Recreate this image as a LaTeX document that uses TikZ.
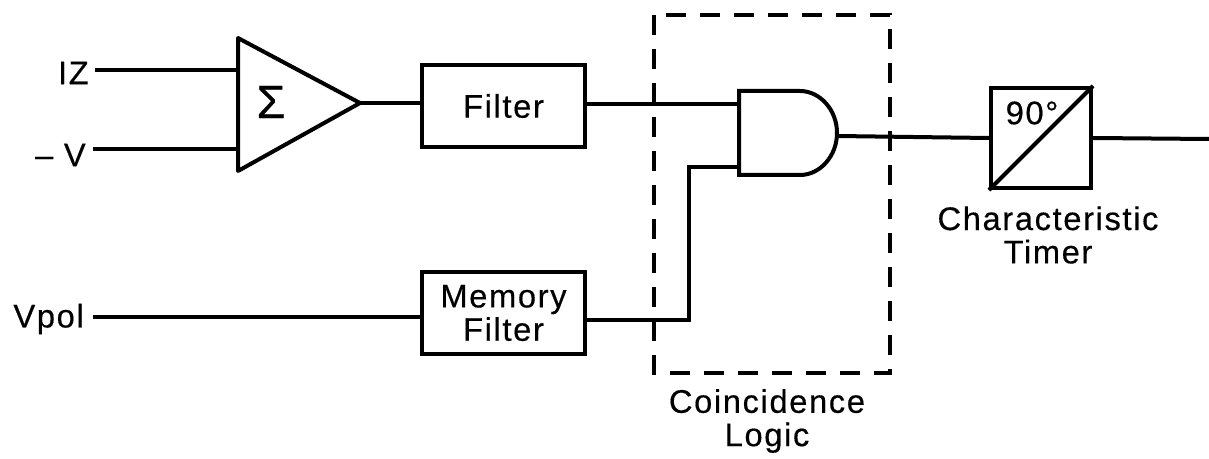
\documentclass[tikz,border=0pt]{standalone}
\usepackage{fontspec}
\setmainfont[LetterSpace=5,FakeBold=0.4]{Liberation Sans}
\tikzset{
  wire/.style={line width=3pt,line join=miter},
  blockbox/.style={draw,line width=3.1pt,minimum width=122pt,minimum height=61pt,inner sep=0pt,align=center},
  lbl/.style={inner sep=0pt,align=center,font=\fontsize{24.5}{25}\selectfont},
}
\begin{document}
\begin{tikzpicture}[x=.75pt,y=-.75pt]
\useasboundingbox (0,0) rectangle (1209,459);
\node[lbl,anchor=east] (iz) at (89,73) {IZ};
\node[lbl,anchor=east] (minusv) at (86,155) {– V};
\node[lbl,anchor=east] (vpol) at (84,319) {Vpol};
\coordinate (sumtop) at (238,38); \coordinate (sumbot) at (238,171); \coordinate (sumtip) at (360,103);
\draw[wire,line join=round] (sumtop)--(sumtip)--(sumbot)--cycle;
\node[lbl,font=\fontsize{35}{35}\selectfont] (sigma) at (271,102) {Σ};
\node[blockbox,lbl] (filter) at (503.5,106) {Filter};
\node[blockbox,lbl] (memfilter) at (503.5,313) {Memory\\Filter};
\coordinate (andtop) at (739,91); \coordinate (andbot) at (739,175);
\draw[wire] (andtop)--(800,91) .. controls (820,91) and (837,110) .. (837,133) .. controls (837,156) and (820,175) .. (800,175)--(andbot)--cycle;
\coordinate (andout) at (837,136);
\node[blockbox,minimum width=75pt,minimum height=75pt] (timer) at (1041,138) {};
\node[lbl] (ninety) at (1032,113) {90°};
\draw[wire] (timer.south west)--(timer.north east);
\node[lbl] (chartimer) at (1048,235) {Characteristic\\Timer};
\node[lbl] (coinlogic) at (767,421) {Coincidence\\Logic};
\draw[line width=2.4pt,dash pattern=on 15pt off 10.5pt] (654,15) rectangle (890,373);
\draw[wire] (iz.east |- 0,70) ++(6,0) -- (sumtop |- 0,70);
\draw[wire] (minusv.east |- 0,149) ++(7,0) -- (sumbot |- 0,149);
\draw[wire] (vpol.east |- 0,317) ++(9,0) -- (memfilter.west |- 0,317);
\draw[wire] (sumtip) -- (filter.west |- sumtip);
\draw[wire] (filter.east |- 0,104) -- (andtop |- 0,104);
\draw[wire] (memfilter.east |- 0,320) -| (689,167) -- (andtop |- 0,167);
\draw[wire] (andout) -- (timer.west);
\draw[wire] (timer.east) -- (1209,139);
\end{tikzpicture}
\end{document}
